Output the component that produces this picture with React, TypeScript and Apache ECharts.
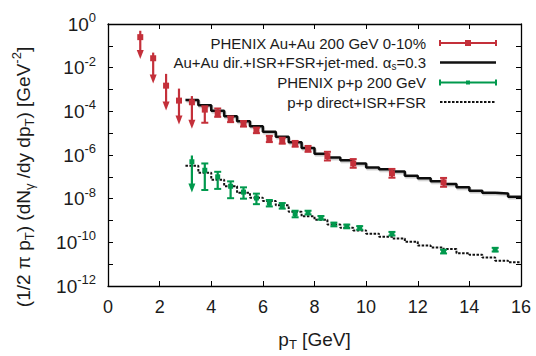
import React, { useEffect, useRef } from 'react';
import * as echarts from 'echarts';

// ---------- data ----------
// PHENIX Au+Au 200 GeV 0-10% (red). limit = 1 -> upper limit (arrow down)
const auauPt = [1.25, 1.75, 2.25, 2.75, 3.25, 3.75, 4.25, 4.75, 5.25, 5.75, 6.25, 6.75, 7.25, 7.75, 8.5, 9.5, 11, 13];
const auauY = [2.5e-1, 2.7e-2, 1.5e-3, 3.1e-4, 2.6e-4, 1.2e-4, 8.3e-5, 4.3e-5, 2.7e-5, 1.35e-5, 5.4e-6, 4.5e-6, 3.2e-6, 1.9e-6, 8.9e-7, 4.1e-7, 1.45e-7, 5.6e-8];
const auauHi = [4.9e-1, 4.9e-2, 5.2e-3, 1.1e-3, 5.0e-4, 1.7e-4, 1.35e-4, 5.8e-5, 3.6e-5, 1.8e-5, 7.5e-6, 6.2e-6, 4.4e-6, 2.6e-6, 1.4e-6, 6.5e-7, 2.3e-7, 8.9e-8];
const auauLo = [2.5e-2, 1.9e-3, 1.1e-4, 2.5e-5, 1.6e-5, 3.0e-5, 5.6e-5, 3.2e-5, 2.0e-5, 1.0e-5, 3.9e-6, 3.3e-6, 2.4e-6, 1.4e-6, 5.6e-7, 2.6e-7, 9.1e-8, 3.5e-8];
const auauLimit = [1, 1, 1, 1, 1, 0, 0, 0, 0, 0, 0, 0, 0, 0, 0, 0, 0, 0];

// PHENIX p+p 200 GeV (green)
const ppPt = [3.25, 3.75, 4.25, 4.75, 5.25, 5.75, 6.25, 6.75, 7.25, 7.75, 8.25, 8.75, 9.25, 9.75, 11, 13, 15];
const ppY = [4.9e-7, 2.0e-7, 1.0e-7, 3.7e-8, 2.0e-8, 1.07e-8, 6.2e-9, 4.7e-9, 2.0e-9, 2.3e-9, 1.35e-9, 6.6e-10, 5.4e-10, 4.6e-10, 2.5e-10, 3.8e-11, 4.6e-11];
const ppHi = [9.5e-7, 4.1e-7, 1.7e-7, 6.2e-8, 3.3e-8, 1.7e-8, 8.7e-9, 6.3e-9, 2.8e-9, 2.8e-9, 1.6e-9, 8.0e-10, 6.5e-10, 5.5e-10, 3.0e-10, 4.6e-11, 5.6e-11];
const ppLo = [1.9e-8, 2.5e-8, 2.8e-8, 1.05e-8, 1.0e-8, 5.6e-9, 4.4e-9, 3.5e-9, 1.4e-9, 1.9e-9, 1.1e-9, 5.4e-10, 4.4e-10, 3.8e-10, 2.05e-10, 3.1e-11, 3.8e-11];
const ppLimit = [1, 0, 0, 0, 0, 0, 0, 0, 0, 0, 0, 0, 0, 0, 0, 0, 0];

// theory histograms (bin edges, value per bin)
const thEdges = [3.0, 3.5, 4.0, 4.5, 5.0, 5.5, 6.0, 6.5, 7.0, 7.5, 8.0, 8.5, 9.0, 9.5, 10.0, 10.5, 11.0, 11.5, 12.0, 12.5, 13.0, 13.5, 14.0, 14.5, 15.0, 15.5, 16.0];
const auauTheory = [3.3e-4, 1.9e-4, 1.07e-4, 6.0e-5, 3.5e-5, 2.1e-5, 1.15e-5, 6.9e-6, 3.8e-6, 2.1e-6, 1.15e-6, 7.6e-7, 5.8e-7, 4.1e-7, 2.7e-7, 2.2e-7, 1.74e-7, 1.12e-7, 8.7e-8, 6.2e-8, 4.7e-8, 3.3e-8, 2.3e-8, 1.86e-8, 1.74e-8, 1.23e-8];
const ppTheory = [3.2e-7, 1.55e-7, 7.4e-8, 3.7e-8, 1.86e-8, 1.1e-8, 7.8e-9, 5.0e-9, 2.5e-9, 1.55e-9, 1.07e-9, 6.5e-10, 4.6e-10, 3.5e-10, 2.5e-10, 1.8e-10, 1.5e-10, 1.07e-10, 7.1e-11, 5.8e-11, 4.9e-11, 3.2e-11, 2.7e-11, 2.0e-11, 1.45e-11, 1.23e-11];

const legendLabels = [
  'PHENIX Au+Au 200 GeV 0-10%',
  'Au+Au dir.+ISR+FSR+jet-med. α{s|s}=0.3',
  'PHENIX p+p 200 GeV',
  'p+p direct+ISR+FSR',
];
const xTitle = 'p{sub|T} [GeV]';
const yTitle = '(1/2 π p{sub|T}) (dN{sub|γ} /dy dp{sub|T}) [GeV{sup|-2}]';

// ---------- styles ----------
const FONT = '"Liberation Sans", Arial, Helvetica, sans-serif';
const TEXT = '#1b1b1b';
const RED = '#c4303a';
const GREEN = '#00994d';

function stepData(edges: number[], vals: number[]) {
  const out: number[][] = edges.slice(0, -1).map((x, i) => [x, vals[i]]);
  out.push([edges[edges.length - 1], vals[vals.length - 1]]);
  return out;
}

function errRender(color: string, mw: number, mh: number) {
  return (params: any, api: any) => {
    const x = api.value(0);
    const p = api.coord([x, api.value(1)]);
    const ph = api.coord([x, api.value(2)]);
    const pl = api.coord([x, api.value(3)]);
    const lim = api.value(4);
    const children: any[] = [];
    children.push({
      type: 'line',
      shape: { x1: p[0], y1: ph[1], x2: p[0], y2: lim ? pl[1] - 6 : pl[1] },
      style: { stroke: color, lineWidth: 2.2 },
    });
    if (lim) {
      children.push({
        type: 'polygon',
        shape: { points: [[p[0] - 3.5, pl[1] - 9], [p[0] + 3.5, pl[1] - 9], [p[0], pl[1]]] },
        style: { fill: color },
      });
    } else {
      children.push({ type: 'line', shape: { x1: p[0] - 3.5, y1: ph[1], x2: p[0] + 3.5, y2: ph[1] }, style: { stroke: color, lineWidth: 2 } });
      children.push({ type: 'line', shape: { x1: p[0] - 3.5, y1: pl[1], x2: p[0] + 3.5, y2: pl[1] }, style: { stroke: color, lineWidth: 2 } });
    }
    children.push({ type: 'rect', shape: { x: p[0] - mw / 2, y: p[1] - mh / 2, width: mw, height: mh }, style: { fill: color } });
    return { type: 'group', children };
  };
}

export default function App() {
  const ref = useRef<HTMLDivElement>(null);
  useEffect(() => {
    if (!ref.current) return;
    const chart = echarts.init(ref.current, undefined, { renderer: 'svg' });

    const axisLine = { show: true, onZero: false, lineStyle: { color: '#000', width: 1.3 } };
    const tick = { show: true, inside: true, length: 5, lineStyle: { color: '#000', width: 1 } };

    const legendX = 426;
    const sampleX1 = 440;
    const sampleX2 = 496;
    const rowY = [43, 62.5, 82.5, 102];
    const graphics: any[] = [];
    legendLabels.forEach((t, i) => {
      graphics.push({
        type: 'text', x: legendX, y: rowY[i], z: 100,
        style: {
          text: t, fill: TEXT, fontSize: 15, fontFamily: FONT, align: 'right', verticalAlign: 'middle',
          rich: { s: { fontSize: 10, fontFamily: FONT, fill: TEXT, verticalAlign: 'bottom', padding: [8, 0, 0, 0] } },
        },
      });
    });
    const sample = (y: number, color: string, mw: number) => [
      { type: 'line', z: 100, shape: { x1: sampleX1, y1: y, x2: sampleX2, y2: y }, style: { stroke: color, lineWidth: 2 } },
      { type: 'line', z: 100, shape: { x1: sampleX1, y1: y - 3, x2: sampleX1, y2: y + 3 }, style: { stroke: color, lineWidth: 2 } },
      { type: 'line', z: 100, shape: { x1: sampleX2, y1: y - 3, x2: sampleX2, y2: y + 3 }, style: { stroke: color, lineWidth: 2 } },
      { type: 'rect', z: 100, shape: { x: (sampleX1 + sampleX2) / 2 - mw / 2, y: y - mw / 2, width: mw, height: mw }, style: { fill: color } },
    ];
    graphics.push(...sample(rowY[0], RED, 6));
    graphics.push({ type: 'line', z: 100, shape: { x1: sampleX1, y1: rowY[1], x2: sampleX2, y2: rowY[1] }, style: { stroke: '#111', lineWidth: 2.5 } });
    graphics.push(...sample(rowY[2], GREEN, 4));
    graphics.push({ type: 'line', z: 100, shape: { x1: sampleX1, y1: rowY[3], x2: sampleX2, y2: rowY[3] }, style: { stroke: '#111', lineWidth: 2, lineDash: [2.5, 1.5] } });

    const option: any = {
      animation: false,
      backgroundColor: '#ffffff',
      grid: { left: 108, right: 15, top: 24, bottom: 64 },
      xAxis: [
        {
          type: 'value', min: 0, max: 16, interval: 2, position: 'bottom',
          axisLine, axisTick: tick, splitLine: { show: false },
          axisLabel: { margin: 12, fontSize: 18, fontFamily: FONT, color: TEXT },
          name: xTitle, nameLocation: 'middle', nameGap: 41,
          nameTextStyle: {
            fontSize: 19, fontFamily: FONT, color: TEXT, lineHeight: 24,
            rich: { sub: { fontSize: 13, verticalAlign: 'bottom', lineHeight: 13 } },
          },
        },
        {
          type: 'value', min: 0, max: 16, interval: 2, position: 'top',
          axisLine, axisTick: tick, splitLine: { show: false }, axisLabel: { show: false },
        },
      ],
      yAxis: [
        {
          type: 'log', logBase: 10, min: 1e-12, max: 1, interval: 1, position: 'left',
          axisLine, axisTick: tick, splitLine: { show: false }, minorTick: { show: false },
          axisLabel: {
            margin: 12, fontSize: 19, fontFamily: FONT, color: TEXT, lineHeight: 26,
            formatter: (v: number) => {
              const e = Math.round(Math.log10(v));
              if (e % 2 !== 0) return '';
              return '10{sup|' + e + '}';
            },
            rich: { sup: { fontSize: 13, verticalAlign: 'top', lineHeight: 13 } },
          },
          name: yTitle, nameLocation: 'middle', nameGap: 72, nameRotate: 90,
          nameTextStyle: {
            fontSize: 19, fontFamily: FONT, color: TEXT, lineHeight: 26, padding: [0, 44, 0, 0],
            rich: {
              sub: { fontSize: 13, verticalAlign: 'bottom', lineHeight: 13 },
              sup: { fontSize: 13, verticalAlign: 'top', lineHeight: 13 },
            },
          },
        },
        {
          type: 'log', logBase: 10, min: 1e-12, max: 1, interval: 1, position: 'right',
          axisLine, axisTick: tick, splitLine: { show: false }, axisLabel: { show: false },
        },
      ],
      series: [
        {
          type: 'line', name: 'Au+Au theory', xAxisIndex: 0, yAxisIndex: 0, step: 'end', showSymbol: false,
          data: stepData(thEdges, auauTheory),
          lineStyle: { color: '#111', width: 2.5, shadowColor: 'rgba(0,0,0,0.22)', shadowOffsetY: 1.5, shadowOffsetX: 1, shadowBlur: 0 },
          z: 2,
        },
        {
          type: 'line', name: 'p+p theory', xAxisIndex: 0, yAxisIndex: 0, step: 'end', showSymbol: false,
          data: stepData(thEdges, ppTheory),
          lineStyle: { color: '#111', width: 2, type: [2.5, 1.5] },
          z: 2,
        },
        {
          type: 'custom', name: 'PHENIX Au+Au', xAxisIndex: 0, yAxisIndex: 0,
          data: auauPt.map((x, i) => [x, auauY[i], auauHi[i], auauLo[i], auauLimit[i]]),
          encode: { x: 0, y: 1 },
          renderItem: errRender(RED, 6, 6),
          z: 3,
        },
        {
          type: 'custom', name: 'PHENIX p+p', xAxisIndex: 0, yAxisIndex: 0,
          data: ppPt.map((x, i) => [x, ppY[i], ppHi[i], ppLo[i], ppLimit[i]]),
          encode: { x: 0, y: 1 },
          renderItem: errRender(GREEN, 5, 5),
          z: 3,
        },
      ],
      graphic: graphics,
    };
    chart.setOption(option);
    return () => chart.dispose();
  }, []);
  return <div ref={ref} style={{ position: 'fixed', left: 0, top: 0, width: 536, height: 356, background: '#fff' }} />;
}
